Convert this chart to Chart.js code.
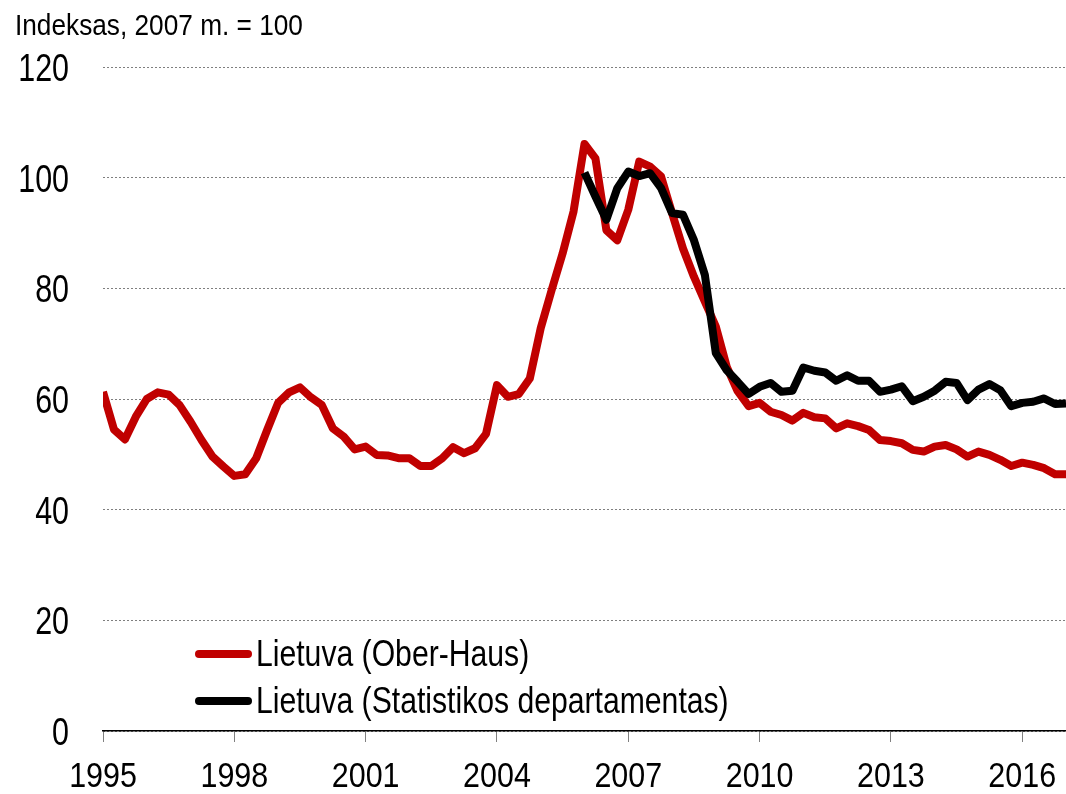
<!DOCTYPE html>
<html lang="lt">
<head>
<meta charset="utf-8">
<title>Būsto kainų indeksas</title>
<script src="https://cdn.jsdelivr.net/npm/chart.js@4.4.1/dist/chart.umd.min.js"></script>
<style>
  html, body { margin: 0; padding: 0; background: #fff; }
  #wrap { position: relative; width: 1066px; height: 794px; }
  #chart { position: absolute; left: 0; top: 0; }
  .txt { font-family: "Liberation Sans", Arial, sans-serif; color: #000; }
  #title { position: absolute; left: 15px; top: 10px; font-size: 30px; line-height: 30px; white-space: nowrap;
           transform: scaleX(0.874); transform-origin: 0 0; }
  #legend { position: absolute; left: 195px; top: 630px; font-size: 37px; line-height: 37px; }
  .row { display: flex; align-items: center; height: 47px; white-space: nowrap; }
  .sw { width: 57px; height: 8px; border-radius: 4px; margin-right: 4px; flex: none; }
  .lbl { display: inline-block; transform: scaleX(0.815); transform-origin: 0 50%; }
</style>
</head>
<body>
<div id="wrap">
  <canvas id="chart" width="1066" height="794"></canvas>
  <div id="title" class="txt">Indeksas, 2007 m. = 100</div>
  <div id="legend" class="txt"></div>
</div>
<script>
// Ketvirtiniai duomenys: 1995 I ketv. – 2017 I ketv.
const startYear = 1995;
const blackStartYear = 2006; // Statistikos departamento serija prasideda 2006 m.

const seriesNames = ['Lietuva (Ober-Haus)', 'Lietuva (Statistikos departamentas)'];
const seriesColors = ['#c00000', '#000000'];

const oberHaus = [
  61.3, 54.5, 52.7, 56.8, 60.0, 61.2, 60.8, 58.9, 55.9, 52.6, 49.6, 47.8,
  46.1, 46.4, 49.3, 54.4, 59.3, 61.2, 62.1, 60.3, 58.9, 54.7, 53.2, 50.9,
  51.4, 49.9, 49.8, 49.3, 49.3, 47.9, 47.9, 49.3, 51.3, 50.2, 51.1, 53.7,
  62.5, 60.4, 60.9, 63.7, 72.8, 79.7, 86.3, 93.9, 106.1, 103.5, 90.5, 88.7,
  94.2, 102.9, 102.0, 100.2, 93.6, 87.2, 82.1, 77.6, 73.1, 65.8, 61.4, 58.7,
  59.3, 57.7, 57.1, 56.1, 57.5, 56.7, 56.5, 54.7, 55.6, 55.1, 54.4, 52.6,
  52.4, 52.0, 50.8, 50.5, 51.4, 51.7, 50.9, 49.6, 50.5, 49.9, 49.0, 47.9,
  48.5, 48.1, 47.5, 46.4, 46.4
];

const statDep = [
  100.9, 96.6, 92.4, 98.1, 101.1, 100.3, 100.8, 98.1, 93.6, 93.3, 88.7, 82.4,
  68.3, 65.2, 63.1, 60.9, 62.2, 62.9, 61.3, 61.5, 65.7, 65.1, 64.8, 63.3,
  64.3, 63.3, 63.3, 61.3, 61.7, 62.3, 59.6, 60.4, 61.5, 63.1, 62.9, 59.8,
  61.7, 62.7, 61.6, 58.7, 59.3, 59.5, 60.1, 59.1, 59.2
];

// Ašių nustatymai
const yMin = 0, yMax = 120, yStep = 20;
const xMin = 1995, xMax = 2017, xStep = 3;

// Paversti ketvirčių eilutes į {x, y} taškus
function toPoints(values, firstYear) {
  return values.map((v, i) => ({ x: firstYear + i / 4, y: v }));
}

// Legenda (HTML)
const legendEl = document.getElementById('legend');
seriesNames.forEach((name, i) => {
  const row = document.createElement('div');
  row.className = 'row';
  const sw = document.createElement('div');
  sw.className = 'sw';
  sw.style.background = seriesColors[i];
  const label = document.createElement('span');
  label.className = 'lbl';
  label.textContent = name;
  row.appendChild(sw);
  row.appendChild(label);
  legendEl.appendChild(row);
});

// Siauresnis šriftas ašių žymoms (Arial Narrow nėra, todėl suspaudžiam Liberation Sans)
const narrowTicks = {
  id: 'narrowTicks',
  afterDraw(chart) {
    const c = chart.ctx;
    c.save();
    c.fillStyle = '#000';
    c.textBaseline = 'alphabetic';

    // X ašis
    const xs = chart.scales.x;
    c.font = '35px "Liberation Sans", Arial, sans-serif';
    c.textAlign = 'center';
    xs.ticks.forEach(t => {
      const px = xs.getPixelForValue(t.value);
      c.save();
      c.translate(px, 787);
      c.scale(0.87, 1);
      c.fillText(String(t.value), 0, 0);
      c.restore();
    });

    // Y ašis
    const ys = chart.scales.y;
    c.font = '39px "Liberation Sans", Arial, sans-serif';
    c.textAlign = 'right';
    ys.ticks.forEach(t => {
      const py = ys.getPixelForValue(t.value);
      c.save();
      c.translate(69, py + 14);
      c.scale(0.78, 1);
      c.fillText(String(t.value), 0, 0);
      c.restore();
    });
    c.restore();
  }
};

const ctx = document.getElementById('chart').getContext('2d');
new Chart(ctx, {
  type: 'line',
  data: {
    datasets: [
      {
        label: seriesNames[0],
        data: toPoints(oberHaus, startYear),
        borderColor: seriesColors[0],
        backgroundColor: seriesColors[0],
        borderWidth: 8,
        pointRadius: 0,
        tension: 0,
        borderJoinStyle: 'round',
        order: 2
      },
      {
        label: seriesNames[1],
        data: toPoints(statDep, blackStartYear),
        borderColor: seriesColors[1],
        backgroundColor: seriesColors[1],
        borderWidth: 8,
        pointRadius: 0,
        tension: 0,
        borderJoinStyle: 'round',
        order: 1
      }
    ]
  },
  options: {
    responsive: false,
    animation: false,
    layout: { padding: { top: 67, right: 0, left: 0, bottom: 0 } },
    plugins: {
      legend: { display: false },
      title: { display: false },
      tooltip: { enabled: false }
    },
    scales: {
      x: {
        type: 'linear',
        min: xMin,
        max: xMax,
        afterFit: s => { s.height = 63; },
        ticks: {
          display: false,
          stepSize: xStep,
          includeBounds: false,
          autoSkip: false,
          maxRotation: 0
        },
        grid: { drawOnChartArea: false, drawTicks: true, tickLength: 11, tickColor: '#808080' },
        border: { display: true, color: '#000', width: 1.5 }
      },
      y: {
        min: yMin,
        max: yMax,
        afterFit: s => { s.width = 103; },
        ticks: { display: false, stepSize: yStep },
        grid: { color: '#7f7f7f', lineWidth: 1, drawTicks: false },
        border: { display: false, dash: [2, 2] }
      }
    }
  },
  plugins: [narrowTicks]
});
</script>
</body>
</html>
